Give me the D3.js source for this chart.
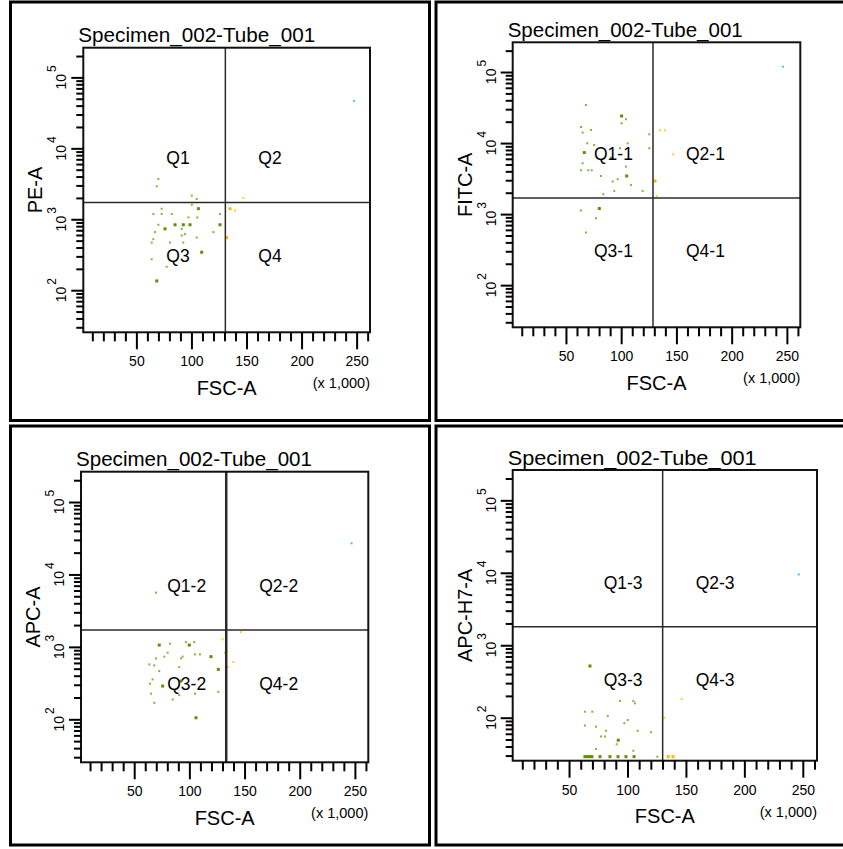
<!DOCTYPE html>
<html><head><meta charset="utf-8">
<script src="https://cdn.jsdelivr.net/npm/d3@7"></script>
<style>
html,body{margin:0;padding:0;background:#fff}
svg{display:block}
text{font-family:"Liberation Sans",Arial,sans-serif;fill:#000}
</style>
</head><body><div id="chart"></div>
<script>
// ---------------- DATA ----------------
const panelTitles = ["Specimen_002-Tube_001","Specimen_002-Tube_001","Specimen_002-Tube_001","Specimen_002-Tube_001"];
const yAxisLabels = ["PE-A","FITC-A","APC-A","APC-H7-A"];
const xAxisLabel = "FSC-A";
const xUnitLabel = "(x 1,000)";
const quadrantLabels = [
  ["Q1","Q2","Q3","Q4"],
  ["Q1-1","Q2-1","Q3-1","Q4-1"],
  ["Q1-2","Q2-2","Q3-2","Q4-2"],
  ["Q1-3","Q2-3","Q3-3","Q4-3"]
];
const xDomain = [1800, 262144];      // FSC-A
const yDomain = [25.5, 262144];      // fluorescence (log)
const xMajorTicks = [50000,100000,150000,200000,250000];
const xTickLabels = ["50","100","150","200","250"];
const yDecades = [2,3,4,5];
const gateFSC = [130800,128800,133400,130100];
const gateFluor = [1730,1690,1706,1800];

// events: [FSC-A (x1000), fluorescence, population, overlapping events]
const pePoints = [
 [70,3706,"g",1],[68.5,2915,"g",1],[100.3,2153,"g",1],[104.8,1932,"g",1],[100.3,1604,"g",1],
 [106.3,1409,"g",2],[73,1409,"g",1],[65.4,1185,"g",1],[73,1185,"g",1],[82.1,1185,"g",1],
 [126,1185,"g",1],[97.2,1061,"g",1],[105.3,1061,"g",1],[70,836,"g",1],[85.1,836,"g",2],
 [92.6,836,"g",2],[98.7,836,"g",2],[126,836,"g",2],[76,733,"g",2],[91.2,733,"g",1],
 [66.9,659,"g",1],[94.2,617,"g",1],[91.2,590,"g",1],[119.9,659,"g",1],[104.8,552,"g",1],
 [65.4,524,"g",1],[63.9,469,"g",1],[80.5,469,"g",1],[92.6,469,"g",1],[109.3,343,"g",2],
 [63.9,273,"g",1],[77.5,214,"g",1],[68.5,135,"g",2],
 [147.1,1995,"y",1],[135,1409,"y",2],[139.6,1333,"y",1],[132,552,"y",2],
 [247.7,46660,"c",1]
];
const fitcPoints = [
 [68.1,34360,"g",1],[100.4,24050,"g",2],[104.3,21630,"g",1],[100.4,18990,"g",1],[63.6,16830,"g",1],
 [72.7,15290,"g",1],[65.1,14060,"g",1],[69.3,9930,"g",1],[75.6,9400,"g",1],[125.4,13300,"g",1],
 [105.9,9930,"g",1],[66.6,7350,"g",2],[98.9,8450,"g",1],[125.4,8450,"g",1],[91.4,6110,"g",2],
 [65.1,5200,"g",1],[63.6,4140,"g",1],[70.2,4140,"g",1],[73.3,4140,"g",1],[104.3,4670,"g",1],
 [81.7,3440,"g",1],[105,3440,"g",2],[96.8,3100,"g",1],[92.3,2875,"g",1],[108.9,2575,"g",1],
 [83.8,1905,"g",1],[93.7,2120,"g",1],[119.4,2120,"g",1],[63.6,1125,"g",1],[80.2,1200,"g",2],
 [77.2,875,"g",1],[68.1,551,"g",1],
 [135.1,15140,"y",1],[139.6,15140,"y",1],[147.1,6950,"y",1],[130.6,2930,"y",2],[132.1,1803,"y",1],
 [246.4,119100,"c",1]
];
const apcPoints = [
 [72.7,1059,"g",2],[82.4,1107,"g",1],[96.9,1164,"g",1],[99.9,1059,"g",2],[104.4,1164,"g",1],
 [80.3,832,"g",1],[77.3,733,"g",1],[69.7,694,"g",1],[93.9,733,"g",1],[92.4,694,"g",1],
 [105.1,788,"g",1],[109.6,788,"g",1],[119.6,733,"g",2],[63.7,573,"g",1],[68.2,555,"g",1],
 [90.8,526,"g",1],[72.7,463,"g",1],[126.2,489,"g",2],[66.7,356,"g",1],[64.3,310,"g",1],
 [75.8,288,"g",2],[92.4,337,"g",2],[65.2,226,"g",1],[90.8,216,"g",1],[105.1,226,"g",1],
 [126.2,240,"g",1],[84.9,188,"g",1],[68.2,169,"g",1],[106,105,"g",2],[69.7,5610,"g",1],
 [146.7,1600,"y",1],[130.2,1270,"y",1],[132.2,832,"y",1],[139.8,617,"y",1],[134.7,526,"y",1],
 [247,26900,"c",1]
];
const apcH7Points = [
 [67.9,517,"g",2],[93.6,170,"g",1],[105,170,"g",1],[106.4,158,"g",1],[63.6,121,"g",1],
 [69.9,121,"g",1],[83.1,106,"g",1],[100.2,93,"g",1],[97.3,84,"g",1],[63.6,78,"g",1],
 [73.1,75,"g",1],[81.6,66,"g",1],[108.7,66,"g",1],[120.1,63,"g",1],[77.3,55,"g",1],
 [80.8,55,"g",1],[92.1,49,"g",2],[90.8,43,"g",1],[73.1,37,"g",1],[105,35,"g",1],
 [63.6,29,"g",2],[65.8,29,"g",2],[67.9,29,"g",2],[69.6,29,"g",2],[76.5,29,"g",2],
 [85,29,"g",2],[91.9,29,"g",2],[98.7,29,"g",2],[105.6,29,"g",2],[125.5,29,"g",1],
 [146.4,180,"y",1],[131.5,100,"y",1],[134.9,29,"y",2],[138.9,29,"y",2],
 [246.5,9480,"c",1]
];
const panelPoints = [pePoints, fitcPoints, apcPoints, apcH7Points];

// ---------------- LAYOUT / STYLE ----------------
const layout = [
 {frame:[10.5,2,419,418.5], plot:[83.3,47.7,370,332.3], titleW:237, vW:1.5},
 {frame:[436,2,412,418.5], plot:[512.7,42.3,800.3,327.3], titleW:235, vW:1.5},
 {frame:[10.5,426,419,419], plot:[81,471.7,368.3,762.3], titleW:236, vW:2.5},
 {frame:[436,426,412,419], plot:[512.7,470,817,760.7], titleW:249, vW:1.5}
];
const colors = {
  g:["#84b43a","#5e9000"],
  y:["#ffd21a","#f5b800"],
  c:["#4cc0f0","#2aa8e8"]
};

const svg = d3.select("#chart").append("svg").attr("width",843).attr("height",849);
svg.append("rect").attr("width",843).attr("height",849).attr("fill","#fff");

const xMinorTicks = d3.range(10000, 260001, 10000).filter(v => !xMajorTicks.includes(v));
const yMinorTicks = [];
[1,2,3,4,5].forEach(d => { for (let m=2;m<=9;m++){ const v=m*Math.pow(10,d); if (v>=yDomain[0] && v<=yDomain[1]) yMinorTicks.push(v);} });
const yMajorTicks = yDecades.map(d => Math.pow(10,d));

layout.forEach((L,i) => {
  const [pl,pt,pr,pb] = L.plot;
  const x = d3.scaleLinear().domain(xDomain).range([pl,pr]);
  const y = d3.scaleLog().domain(yDomain).range([pb,pt]);
  const g = svg.append("g");

  // frame
  g.append("rect").attr("x",L.frame[0]).attr("y",L.frame[1]).attr("width",L.frame[2]).attr("height",L.frame[3])
    .attr("fill","none").attr("stroke","#000").attr("stroke-width",3);

  // dots
  const clipId = "clip"+i;
  g.append("clipPath").attr("id",clipId).append("rect").attr("x",pl).attr("y",pt).attr("width",pr-pl).attr("height",pb-pt);
  g.append("g").attr("clip-path",`url(#${clipId})`).selectAll("rect").data(panelPoints[i]).join("rect")
    .attr("x", d => x(d[0]*1000) - (d[3]>1?1.5:1))
    .attr("y", d => y(d[1]) - (d[3]>1?1.5:1))
    .attr("width", d => d[3]>1?3:2).attr("height", d => d[3]>1?3:2)
    .attr("fill", d => colors[d[2]][d[3]>1?1:0]);

  // gates
  g.append("line").attr("x1",x(gateFSC[i])).attr("x2",x(gateFSC[i])).attr("y1",pt).attr("y2",pb)
    .attr("stroke","#2a2a2a").attr("stroke-width",L.vW);
  g.append("line").attr("x1",pl).attr("x2",pr).attr("y1",y(gateFluor[i])).attr("y2",y(gateFluor[i]))
    .attr("stroke","#2a2a2a").attr("stroke-width",1.5);

  // plot border
  g.append("rect").attr("x",pl).attr("y",pt).attr("width",pr-pl).attr("height",pb-pt)
    .attr("fill","none").attr("stroke","#111").attr("stroke-width",2);

  // x axis
  const xMinorAxis = g.append("g").attr("transform",`translate(0,${pb})`)
    .call(d3.axisBottom(x).tickValues(xMinorTicks).tickSize(9).tickFormat(""));
  const xMajorAxis = g.append("g").attr("transform",`translate(0,${pb})`)
    .call(d3.axisBottom(x).tickValues(xMajorTicks).tickSize(17).tickFormat((d,k)=>xTickLabels[k]));
  [xMinorAxis,xMajorAxis].forEach(a => {
    a.select(".domain").remove();
    a.selectAll(".tick line").attr("stroke","#000").attr("stroke-width",2);
  });
  xMajorAxis.selectAll(".tick text").attr("y",34).attr("dy",0)
    .style("font-size","14px").style("font-family","'Liberation Sans',Arial,sans-serif").attr("fill","#000");

  // y axis
  const yMinorAxis = g.append("g").attr("transform",`translate(${pl},0)`)
    .call(d3.axisLeft(y).tickValues(yMinorTicks).tickSize(7).tickFormat(""));
  const yMajorAxis = g.append("g").attr("transform",`translate(${pl},0)`)
    .call(d3.axisLeft(y).tickValues(yMajorTicks).tickSize(12).tickFormat(""));
  [yMinorAxis,yMajorAxis].forEach(a => {
    a.select(".domain").remove();
    a.selectAll(".tick line").attr("stroke","#000").attr("stroke-width",2);
  });
  yDecades.forEach(d => {
    const t = g.append("text").attr("transform",`translate(${pl-17},${y(Math.pow(10,d))}) rotate(-90)`)
      .attr("text-anchor","middle").style("font-size","14px");
    t.append("tspan").text("10");
    t.append("tspan").attr("dy",-10).attr("dx",2).style("font-size","12px").text(String(d));
  });

  // title
  g.append("text").attr("x",pl-5).attr("y",pt-5.5).style("font-size","20px")
    .attr("textLength",L.titleW).attr("lengthAdjust","spacingAndGlyphs").text(panelTitles[i]);

  // axis labels
  g.append("text").attr("x",(pl+pr)/2).attr("y",pb+62.5).attr("text-anchor","middle")
    .style("font-size","20px").text(xAxisLabel);
  g.append("text").attr("x",pr).attr("y",pb+56).attr("text-anchor","end")
    .style("font-size","14.5px").text(xUnitLabel);
  g.append("text").attr("transform",`translate(${pl-41},${(pt+pb)/2}) rotate(-90)`)
    .attr("text-anchor","middle").style("font-size","20px").text(yAxisLabels[i]);

  // quadrant labels
  const gx = x(gateFSC[i]), gy = y(gateFluor[i]);
  const q = quadrantLabels[i];
  const qpos = [[gx-59,gy-38],[gx+33,gy-38],[gx-59,gy+59.5],[gx+33,gy+59.5]];
  q.forEach((lab,k) => {
    g.append("text").attr("x",qpos[k][0]).attr("y",qpos[k][1]).style("font-size","17.5px").text(lab);
  });
});
</script></body></html>
